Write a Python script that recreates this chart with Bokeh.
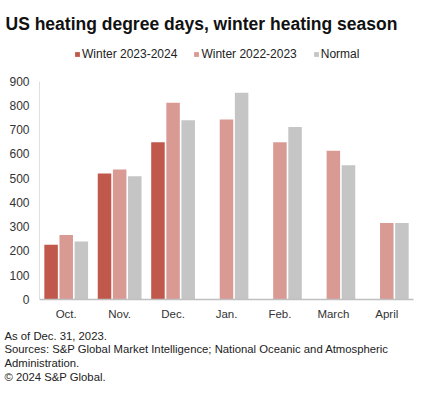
from bokeh.plotting import figure
from bokeh.models import ColumnDataSource, FactorRange, Range1d, Legend, LegendItem, Title
from bokeh.transform import dodge
from bokeh.embed import file_html
from bokeh.resources import INLINE

months = ["Oct.", "Nov.", "Dec.", "Jan.", "Feb.", "March", "April"]
months_2324 = ["Oct.", "Nov.", "Dec."]
winter_2324 = [226, 519, 648]
winter_2223 = [266, 536, 811, 742, 648, 613, 315]
normal = [239, 508, 739, 852, 711, 553, 315]
y_ticks = [0, 100, 200, 300, 400, 500, 600, 700, 800, 900]

title = "US heating degree days, winter heating season"
footer = [
    "As of Dec. 31, 2023.",
    "Sources: S&P Global Market Intelligence; National Oceanic and Atmospheric",
    "Administration.",
    "\u00a9 2024 S&P Global.",
]

RED = "#c0594b"
PINK = "#d99a94"
GRAY = "#c4c5c4"
FONT = "Liberation Sans"

p = figure(width=425, height=399, x_range=FactorRange(*months), y_range=Range1d(0, 1059),
           output_backend="svg", toolbar_location=None,
           min_border_left=39, min_border_right=12, min_border_top=42, min_border_bottom=100)
p.outline_line_color = None
p.xgrid.grid_line_color = None
p.ygrid.grid_line_color = None

src_a = ColumnDataSource(dict(m=months_2324, v=winter_2324))
src_b = ColumnDataSource(dict(m=months, v=winter_2223))
src_c = ColumnDataSource(dict(m=months, v=normal))

r1 = p.vbar(x=dodge("m", -0.283, range=p.x_range), top="v", width=0.253, source=src_a,
            fill_color=RED, line_color=None)
r2 = p.vbar(x=dodge("m", 0.0, range=p.x_range), top="v", width=0.253, source=src_b,
            fill_color=PINK, line_color=None)
r3 = p.vbar(x=dodge("m", 0.283, range=p.x_range), top="v", width=0.253, source=src_c,
            fill_color=GRAY, line_color=None)

# axes
p.yaxis.ticker = y_ticks
p.yaxis.bounds = (0, 900)
p.yaxis.axis_line_color = "#e0e0e0"
p.yaxis.major_tick_line_color = None
p.yaxis.minor_tick_line_color = None
p.yaxis.major_tick_out = 0
p.yaxis.major_tick_in = 0
p.yaxis.minor_tick_out = 0
p.yaxis.major_label_standoff = 10
p.yaxis.major_label_text_font = FONT
p.yaxis.major_label_text_font_size = "12px"
p.yaxis.major_label_text_color = "#333333"

p.xaxis.axis_line_color = "#bfbfbf"
p.xaxis.axis_line_width = 1.5
p.xaxis.major_tick_line_color = None
p.xaxis.minor_tick_line_color = None
p.xaxis.major_tick_out = 0
p.xaxis.major_tick_in = 0
p.xaxis.major_label_standoff = 8
p.xaxis.major_label_text_font = FONT
p.xaxis.major_label_text_font_size = "11.5px"
p.xaxis.major_label_text_color = "#333333"

# title
p.title.text = title
p.title.align = "left"
p.title.offset = -34
p.title.text_font = FONT
p.title.text_font_size = "17.5px"
p.title.text_font_style = "bold"
p.title.text_color = "#111111"
p.title.standoff = 17

legend = Legend(items=[
    LegendItem(label="Winter 2023-2024", renderers=[r1]),
    LegendItem(label="Winter 2022-2023", renderers=[r2]),
    LegendItem(label="Normal", renderers=[r3]),
], orientation="horizontal", location=(35, 238), glyph_width=6, glyph_height=6,
    label_standoff=2, spacing=16, padding=0, margin=0,
    label_text_font=FONT, label_text_font_size="12px", label_text_color="#222222",
    background_fill_alpha=0, border_line_color=None, label_height=10)
p.add_layout(legend, "center")

# footer (one multi-line block below the x axis)
foot = Title(text="\n".join(footer), align="left", offset=-35, text_font=FONT,
             text_font_size="11.3px", text_font_style="normal", text_color="#222222",
             text_line_height=1.15, standoff=14, vertical_align="top")
p.add_layout(foot, "below")

open("out.html", "w").write(file_html(p, INLINE))
